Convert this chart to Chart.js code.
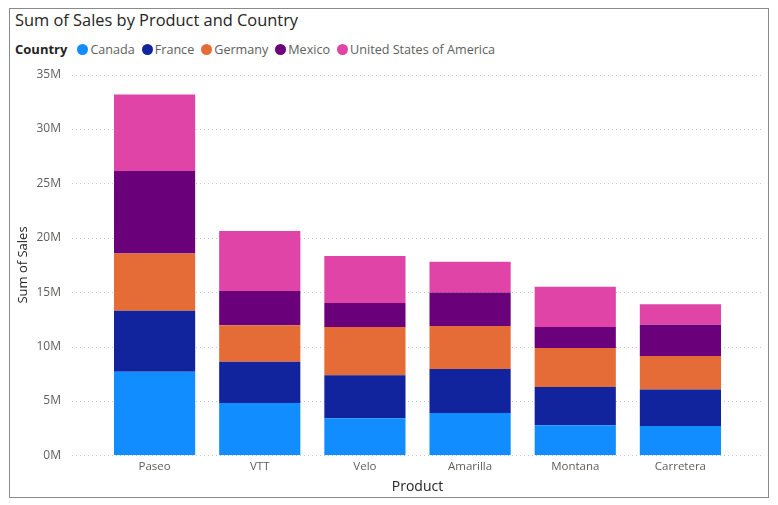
<!DOCTYPE html>
<html><head><meta charset="utf-8">
<script src="https://cdn.jsdelivr.net/npm/chart.js@4.4.1/dist/chart.umd.min.js"></script>
<style>
html,body{margin:0;padding:0;background:#fff;width:778px;height:505px;overflow:hidden;}
#wrap{position:relative;width:778px;height:505px;}
#frame{position:absolute;left:9px;top:8px;width:758px;height:488px;border:1px solid #8a8a8a;}
#title{position:absolute;left:15px;top:8px;font-family:'Open Sans',sans-serif;font-size:16.4px;color:#252423;white-space:nowrap;line-height:24px;}
#legend{position:absolute;left:15px;top:40px;height:18px;font-family:'Open Sans',sans-serif;font-size:12.6px;color:#605e5c;display:flex;align-items:center;white-space:nowrap;}
#legend b{color:#252423;margin-right:10px;font-size:13px;}
#legend .dot{display:inline-block;width:11px;height:11px;border-radius:50%;margin-right:2px;}
#legend .lab{margin-right:7px;}
canvas{position:absolute;left:0;top:0;}
</style></head>
<body>
<div id="wrap">
  <div id="frame"></div>
  <div id="title">Sum of Sales by Product and Country</div>
  <div id="legend"></div>
  <canvas id="c" width="778" height="505"></canvas>
</div>
<script>
const chartTitle = 'Sum of Sales by Product and Country';
const legendTitle = 'Country';
const xTitle = 'Product';
const yTitle = 'Sum of Sales';
const products = ['Paseo', 'VTT', 'Velo', 'Amarilla', 'Montana', 'Carretera'];
const countries = ['Canada', 'France', 'Germany', 'Mexico', 'United States of America'];
const canada  = [7690000, 4810000, 3400000, 3900000, 2760000, 2700000];
const france  = [5610000, 3790000, 3960000, 4040000, 3520000, 3350000];
const germany = [5260000, 3350000, 4440000, 3960000, 3580000, 3090000];
const mexico  = [7590000, 3160000, 2200000, 3060000, 1940000, 2860000];
const usa     = [7020000, 5520000, 4330000, 2840000, 3700000, 1900000];
const colors  = ['#118DFF', '#12239E', '#E66C37', '#6B007B', '#E044A7'];
const yTicks  = [0, 5000000, 10000000, 15000000, 20000000, 25000000, 30000000, 35000000];

const seriesValues = [canada, france, germany, mexico, usa];

// HTML legend built from the series names
const leg = document.getElementById('legend');
const b = document.createElement('b'); b.textContent = legendTitle; leg.appendChild(b);
countries.forEach((name, i) => {
  const d = document.createElement('span'); d.className = 'dot'; d.style.background = colors[i]; leg.appendChild(d);
  const l = document.createElement('span'); l.className = 'lab'; l.textContent = name; leg.appendChild(l);
});

const dottedGrid = {
  id: 'dottedGrid',
  beforeDatasetsDraw(chart) {
    const {ctx, scales: {y}} = chart;
    ctx.save();
    ctx.strokeStyle = '#c8c8c8';
    ctx.lineWidth = 1;
    ctx.setLineDash([1, 3]);
    y.ticks.forEach(t => {
      const py = Math.round(y.getPixelForValue(t.value)) + 0.5;
      ctx.beginPath(); ctx.moveTo(72, py); ctx.lineTo(762, py); ctx.stroke();
    });
    ctx.restore();
  }
};

new Chart(document.getElementById('c'), {
  type: 'bar',
  data: {
    labels: products,
    datasets: countries.map((name, i) => ({
      label: name,
      data: seriesValues[i],
      backgroundColor: colors[i],
      borderWidth: 0,
      categoryPercentage: 1,
      barPercentage: 0.772
    }))
  },
  options: {
    responsive: false,
    animation: false,
    devicePixelRatio: 1,
    layout: {padding: {left: 15, right: 45, top: 74.7, bottom: 10}},
    plugins: {legend: {display: false}, title: {display: false}, tooltip: {enabled: false}},
    scales: {
      x: {
        stacked: true,
        grid: {display: false, drawTicks: false},
        border: {display: false},
        ticks: {color: '#605e5c', font: {family: 'Open Sans', size: 11.5}, padding: 5, maxRotation: 0},
        title: {display: true, text: xTitle, color: '#252423', font: {family: 'Open Sans', size: 14}, padding: {top: 0, bottom: 0}},
        afterFit: s => { s.height = 39.7; }
      },
      y: {
        stacked: true,
        min: 0, max: 35000000,
        afterBuildTicks: s => { s.ticks = yTicks.map(v => ({value: v})); },
        grid: {display: false, drawTicks: false},
        border: {display: false},
        ticks: {color: '#605e5c', font: {family: 'Open Sans', size: 12}, padding: 41,
          callback: v => (v / 1000000) + 'M'},
        title: {display: true, text: yTitle, color: '#252423', font: {family: 'Open Sans', size: 13}, padding: {top: 0, bottom: 8}},
        afterFit: s => { s.width = 87; }
      }
    }
  },
  plugins: [dottedGrid]
});
</script>
</body></html>
